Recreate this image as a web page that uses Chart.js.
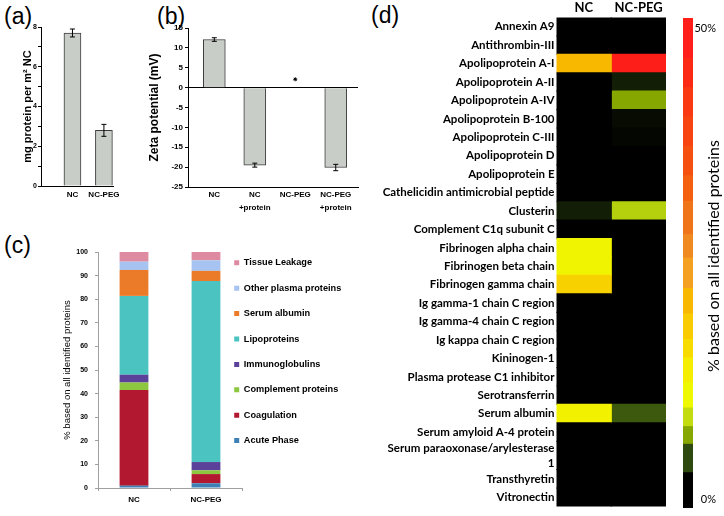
<!DOCTYPE html>
<html><head><meta charset="utf-8">
<script src="https://cdn.jsdelivr.net/npm/chart.js@4.4.1/dist/chart.umd.min.js"></script>
<style>
html,body{margin:0;padding:0;background:#fff;}
#wrap{position:relative;width:724px;height:516px;overflow:hidden;background:#fff;}
canvas{position:absolute;}
.pl{position:absolute;font-family:"Liberation Sans",Arial,sans-serif;font-size:23px;line-height:1;color:#000;}
</style></head><body>
<div id="wrap">
  <div class="pl" style="left:4px;top:5px">(a)</div>
  <div class="pl" style="left:157px;top:5px">(b)</div>
  <div class="pl" style="left:4px;top:234px">(c)</div>
  <div class="pl" style="left:371px;top:4px">(d)</div>
  <canvas id="ca" width="124" height="215" style="left:0;top:0"></canvas>
  <canvas id="cb" width="246" height="215" style="left:124px;top:0"></canvas>
  <canvas id="cc" width="250" height="301" style="left:0;top:215px"></canvas>
  <canvas id="cl" width="152" height="235" style="left:218px;top:242px"></canvas>
  <canvas id="cd" width="300" height="516" style="left:370px;top:0"></canvas>
  <canvas id="ce" width="54" height="516" style="left:670px;top:0"></canvas>
</div>
<script>
// ---------- DATA ----------
// (a) adsorbed protein amount
const aCategories = ['NC', 'NC-PEG'];
const aValues = [7.7, 2.8];
const aErrors = [0.2, 0.3];
const aTickValues = [0, 2, 4, 6, 8];

// (b) zeta potential
const bCategories = [['NC'], ['NC', '+protein'], ['NC-PEG'], ['NC-PEG', '+protein']];
const bValues = [12.1, -19.5, null, -20.1];
const bErrors = [0.45, 0.5, null, 0.8];
const bMarkers = [null, null, 2.1, null];   // '*' marker drawn for NC-PEG

// (c) protein corona composition
const cCategories = ['NC', 'NC-PEG'];
const cGroups = ['Acute Phase', 'Coagulation', 'Complement proteins', 'Immunoglobulins',
                 'Lipoproteins', 'Serum albumin', 'Other plasma proteins', 'Tissue Leakage'];
const cNC    = [1.0, 40.5, 3.2, 3.3, 33.4, 11.0, 3.5, 4.1];
const cNCPEG = [2.0, 3.9, 1.6, 3.5, 76.7, 4.3, 4.5, 3.5];
const cColors = ['#3d80b6', '#b2182f', '#8dc63f', '#5b4199', '#4bc3c1', '#ec7b29', '#a6c3f1', '#de8aa0'];

// (d) heat map
const dColumns = ['NC', 'NC-PEG'];
const dProteins = ['Annexin A9', 'Antithrombin-III', 'Apolipoprotein A-I', 'Apolipoprotein A-II',
  'Apolipoprotein A-IV', 'Apolipoprotein B-100', 'Apolipoprotein C-III', 'Apolipoprotein D',
  'Apolipoprotein E', 'Cathelicidin antimicrobial peptide', 'Clusterin', 'Complement C1q subunit C',
  'Fibrinogen alpha chain', 'Fibrinogen beta chain', 'Fibrinogen gamma chain',
  'Ig gamma-1 chain C region', 'Ig gamma-4 chain C region', 'Ig kappa chain C region',
  'Kininogen-1', 'Plasma protease C1 inhibitor', 'Serotransferrin', 'Serum albumin',
  'Serum amyloid A-4 protein', ['Serum paraoxonase/arylesterase', '1'], 'Transthyretin', 'Vitronectin'];
const dNC    = [0, 0, 21, 0, 0, 0, 0, 0, 0, 0, 1.6, 0, 13, 13, 18, 0, 0, 0, 0, 0, 0, 13.5, 0, 0, 0, 0];
const dNCPEG = [0, 0, 49, 1.6, 7, 0.6, 0.3, 0, 0, 0, 8.8, 0, 0, 0, 0, 0, 0, 0, 0, 0, 0, 4.5, 0, 0, 0, 0];
const cbTickValues = [0, 50];
const cbTickLabels = ['0%', '50%'];
const cbTitle = '% based on all identified proteins';
// colour-scale bands (edges) shown in the colour bar
const cbEdges = [0, 3.7, 6.6, 8.4, 10.3, 12.9, 15.4, 17.3, 19.9, 22.5, 25.6, 28, 31.4, 34, 37, 40, 43, 46, 50];
const cbColors = ['#000000', '#2e4a10', '#86a600', '#c2dc10', '#eef800', '#f6ee00', '#f8dc00', '#f8cc00',
  '#f8b800', '#f4a020', '#f08a20', '#f07418', '#f46010', '#f65010', '#f84410', '#fa3812', '#fc2a14', '#ff1e1a'];

// ---------- STYLE ----------
const SANS = '"Liberation Sans", Arial, sans-serif';
const CAL = 'Lato, "Open Sans", sans-serif';
const heatStops = [[0,[0,0,0]],[4,[46,74,16]],[7,[134,166,0]],[9.3,[194,220,16]],[12,[238,248,0]],
  [15,[246,236,0]],[18,[248,210,0]],[21,[248,184,0]],[26,[240,138,32]],[31,[244,96,16]],[38,[248,68,16]],[50,[255,26,26]]];
function heatColor(v) {
  v = Math.max(0, Math.min(50, v));
  for (let i = 1; i < heatStops.length; i++) {
    const [v0, c0] = heatStops[i - 1], [v1, c1] = heatStops[i];
    if (v <= v1) {
      const t = (v - v0) / (v1 - v0);
      return 'rgb(' + c0.map((c, k) => Math.round(c + (c1[k] - c) * t)).join(',') + ')';
    }
  }
  return 'rgb(255,26,26)';
}
Chart.defaults.color = '#000';
Chart.defaults.animation = false;
Chart.defaults.events = [];
Chart.defaults.plugins.legend.display = false;
Chart.defaults.plugins.tooltip.enabled = false;

const errorBars = {
  id: 'errorBars',
  afterDatasetsDraw(chart) {
    const ctx = chart.ctx, yS = chart.scales.y;
    chart.data.datasets.forEach((ds, di) => {
      const meta = chart.getDatasetMeta(di);
      if (meta.type !== 'bar') return;
      meta.data.forEach((el, i) => {
        const p = ds.data[i];
        if (p.err == null) return;
        const x = el.x, y1 = yS.getPixelForValue(p.y - p.err), y2 = yS.getPixelForValue(p.y + p.err);
        ctx.save();
        ctx.strokeStyle = '#000'; ctx.lineWidth = 1;
        ctx.beginPath();
        ctx.moveTo(x, y1); ctx.lineTo(x, y2);
        ctx.moveTo(x - 2.5, y1); ctx.lineTo(x + 2.5, y1);
        ctx.moveTo(x - 2.5, y2); ctx.lineTo(x + 2.5, y2);
        ctx.stroke(); ctx.restore();
      });
    });
  }
};

// ---------- (a) ----------
new Chart(document.getElementById('ca'), {
  type: 'bar',
  data: { datasets: [{
    data: aValues.map((v, i) => ({ x: i + 1, y: v, err: aErrors[i] })),
    backgroundColor: '#c8cdc8', borderColor: '#3c3c3c', borderWidth: 1, barThickness: 17
  }] },
  options: {
    responsive: false, maintainAspectRatio: false,
    layout: { padding: { top: 27, right: 4, left: 0, bottom: 0 } },
    scales: {
      x: { type: 'linear', min: 0, max: 2.31, offset: false,
        afterFit: s => { s.height = 29; },
        afterBuildTicks: s => { s.ticks = aCategories.map((c, i) => ({ value: i + 1 })); },
        ticks: { callback: (v, i) => aCategories[i], font: { family: SANS, size: 8, weight: 'bold' }, padding: 4, autoSkip: false, maxRotation: 0 },
        grid: { display: true, drawOnChartArea: false, drawTicks: false },
        border: { color: '#000', width: 1 } },
      y: { min: 0, max: 8,
        afterFit: s => { s.width = 41; },
        ticks: { stepSize: 1, callback: v => aTickValues.includes(v) ? String(v) : '', font: { family: SANS, size: 7, weight: 'bold' }, padding: 1 },
        grid: { drawOnChartArea: false, tickLength: 3, color: '#000' },
        border: { color: '#000', width: 1 },
        title: { display: true, text: 'mg protein per m² NC', font: { family: SANS, size: 11, weight: 'bold' }, padding: { top: 21.4, bottom: 0 } } }
    }
  },
  plugins: [errorBars]
});

// ---------- (b) ----------
new Chart(document.getElementById('cb'), {
  type: 'bar',
  data: { datasets: [
    { type: 'bar',
      data: bValues.map((v, i) => ({ x: i + 1, y: v, err: bErrors[i] })).filter(p => p.y !== null),
      backgroundColor: '#c8cdc8', borderColor: '#3c3c3c', borderWidth: 1, barThickness: 22 },
    { type: 'scatter',
      data: bMarkers.map((v, i) => ({ x: i + 1, y: v })).filter(p => p.y !== null),
      pointStyle: 'star', pointRadius: 2, borderColor: '#000', backgroundColor: '#000', borderWidth: 1 }
  ] },
  options: {
    responsive: false, maintainAspectRatio: false,
    layout: { padding: { top: 28, right: 12, left: 0, bottom: 0 } },
    scales: {
      x: { type: 'linear', min: 0.35, max: 4.55, offset: false,
        afterFit: s => { s.height = 28; },
        afterBuildTicks: s => { s.ticks = bCategories.map((c, i) => ({ value: i + 1 })); },
        ticks: { callback: (v, i) => bCategories[i], font: { family: SANS, size: 8, weight: 'bold', lineHeight: 1.65 }, padding: 1, autoSkip: false, maxRotation: 0 },
        grid: { display: true, drawOnChartArea: false, drawTicks: false },
        border: { color: '#000', width: 1 } },
      y: { min: -25, max: 15,
        afterFit: s => { s.width = 64; },
        ticks: { stepSize: 2.5, callback: v => (v % 5 === 0 ? String(v) : ''), font: { family: SANS, size: 8, weight: 'bold' }, padding: 2 },
        grid: { drawOnChartArea: true, tickLength: 3, tickColor: '#000',
                color: c => (c.tick && c.tick.value === 0 ? '#000' : 'rgba(0,0,0,0)') },
        border: { color: '#000', width: 1 },
        title: { display: true, text: 'Zeta potential (mV)', font: { family: SANS, size: 12, weight: 'bold' }, padding: { top: 23.8, bottom: 0 } } }
    }
  },
  plugins: [errorBars]
});

// ---------- (c) ----------
const cDatasets = cGroups.map((g, i) => ({
  label: g, data: [cNC[i], cNCPEG[i]], backgroundColor: cColors[i], borderWidth: 0,
  barPercentage: 0.4, categoryPercentage: 1
}));
new Chart(document.getElementById('cc'), {
  type: 'bar',
  data: { labels: cCategories, datasets: cDatasets },
  options: {
    responsive: false, maintainAspectRatio: false,
    layout: { padding: { top: 37, right: 8, left: 0, bottom: 0 } },
    scales: {
      x: { stacked: true,
        afterFit: s => { s.height = 28; },
        ticks: { font: { family: SANS, size: 8, weight: 'bold' }, padding: 4 },
        grid: { drawOnChartArea: false, tickLength: 3, color: '#a0a0a0' },
        border: { color: '#a0a0a0', width: 1 } },
      y: { stacked: true, min: 0, max: 100,
        afterFit: s => { s.width = 98; },
        ticks: { stepSize: 10, font: { family: SANS, size: 7, weight: 'bold' }, padding: 7 },
        grid: { drawOnChartArea: false, tickLength: 3, color: '#a0a0a0' },
        border: { color: '#a0a0a0', width: 1 },
        title: { display: true, text: '% based on all identified proteins', font: { family: SANS, size: 9.5 }, padding: { top: 61.3, bottom: 0 } } }
    }
  }
});

// legend of (c)
new Chart(document.getElementById('cl'), {
  type: 'bar',
  data: { labels: [], datasets: cGroups.map((g, i) => ({ label: g, data: [], backgroundColor: cColors[i], borderWidth: 0 })) },
  options: {
    responsive: false, maintainAspectRatio: false,
    layout: { padding: 0 },
    scales: { x: { display: false }, y: { display: false } },
    plugins: { legend: { display: true, position: 'left', align: 'start', reverse: true, maxWidth: 152,
      labels: { boxWidth: 5, boxHeight: 5, padding: 16.2, color: '#000', font: { family: SANS, size: 9.2, weight: 'bold' } } } }
  }
});

// ---------- (d) heat map ----------
const rowSpans = dProteins.map(p => (Array.isArray(p) ? 1.54 : 1));
const rowStart = [];
let acc = 0;
rowSpans.forEach(s => { rowStart.push(acc); acc += s; });
const rowTotal = acc;
const dValues = [dNC, dNCPEG];
new Chart(document.getElementById('cd'), {
  type: 'bar',
  data: { labels: dColumns, datasets: dColumns.map((col, ci) => ({
    data: dValues[ci].map((v, ri) => ({ x: col, y: [rowStart[ri], rowStart[ri] + rowSpans[ri]] })),
    backgroundColor: dValues[ci].map(heatColor), borderWidth: 0, inflateAmount: 0.6,
    barPercentage: 1, categoryPercentage: 1
  })) },
  options: {
    responsive: false, maintainAspectRatio: false,
    layout: { padding: { top: 0, right: 4, left: 0, bottom: 8 } },
    scales: {
      x: { position: 'top', stacked: true,
        afterFit: s => { s.height = 17.5; },
        ticks: { font: { family: CAL, size: 13, weight: 'bold' }, padding: 2 },
        grid: { display: false, drawTicks: false }, border: { display: false } },
      y: { type: 'linear', reverse: true, min: 0, max: rowTotal,
        afterFit: s => { s.width = 186.5; },
        afterBuildTicks: s => { s.ticks = rowStart.map((st, i) => ({ value: st + rowSpans[i] / 2 })); },
        ticks: { callback: (v, i) => dProteins[i], autoSkip: false, padding: 2,
          font: { family: CAL, size: 11.5, weight: 'bold', lineHeight: 1.3 } },
        grid: { display: false, drawTicks: false }, border: { display: false } }
    }
  }
});

// ---------- colour bar ----------
const cbText = {
  id: 'cbText',
  afterDraw(chart) {
    const ctx = chart.ctx, y = chart.scales.y, ca = chart.chartArea;
    ctx.save();
    ctx.fillStyle = '#000';
    ctx.font = '11px ' + CAL;
    ctx.textAlign = 'right'; ctx.textBaseline = 'middle';
    cbTickValues.forEach((v, i) => {
      const py = y.getPixelForValue(v) + (v === cbTickValues[0] ? -9 : 10);
      ctx.fillText(cbTickLabels[i], ca.right + 23, py);
    });
    ctx.translate(ca.right + 21, (ca.top + ca.bottom) / 2 - 7);
    ctx.rotate(-Math.PI / 2);
    ctx.textAlign = 'center';
    ctx.font = '16px ' + CAL;
    ctx.fillText(cbTitle, 0, 0);
    ctx.restore();
  }
};
new Chart(document.getElementById('ce'), {
  type: 'bar',
  data: { labels: ['scale'], datasets: [{
    data: cbColors.map((c, i) => ({ x: 'scale', y: [cbEdges[i], cbEdges[i + 1]] })),
    backgroundColor: cbColors, borderWidth: 0, inflateAmount: 0.5, barPercentage: 1, categoryPercentage: 1
  }] },
  options: {
    responsive: false, maintainAspectRatio: false,
    layout: { padding: { top: 18, bottom: 8, left: 13, right: 31 } },
    scales: { x: { display: false }, y: { display: false, min: 0, max: 50 } }
  },
  plugins: [cbText]
});
</script>
</body></html>
